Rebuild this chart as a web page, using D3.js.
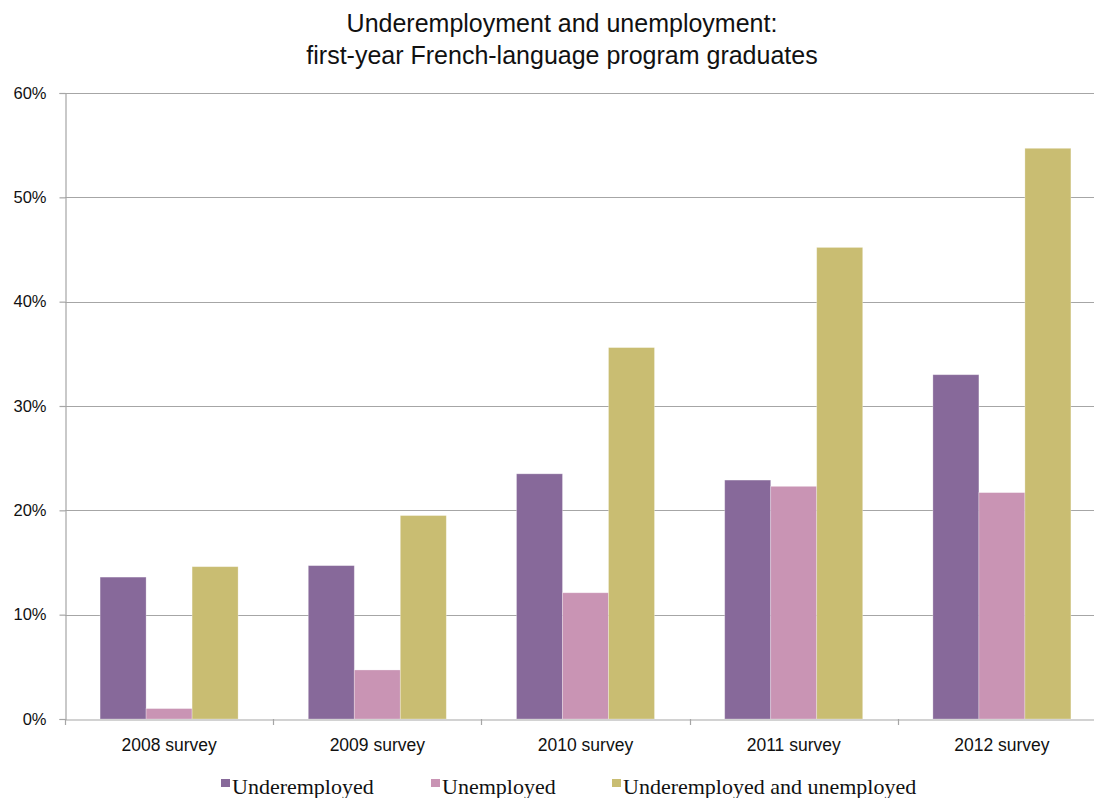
<!DOCTYPE html>
<html>
<head>
<meta charset="utf-8">
<script src="https://cdn.jsdelivr.net/npm/d3@7"></script>
<style>
  html, body { margin: 0; padding: 0; background: #fff; }
  svg { display: block; }
</style>
</head>
<body>
<svg id="chart" width="1094" height="798"></svg>
<script>
// Survey years and the three rates (percent)
const categories = ["2008 survey", "2009 survey", "2010 survey", "2011 survey", "2012 survey"];
const seriesNames = ["Underemployed", "Unemployed", "Underemployed and unemployed"];
const underemployed = [13.6, 14.7, 23.5, 22.9, 33.0];
const unemployed = [1.0, 4.7, 12.1, 22.3, 21.7];
const combined = [14.6, 19.5, 35.6, 45.2, 54.7];
const yTicks = [0, 10, 20, 30, 40, 50, 60];
const colors = ["#87699a", "#c994b4", "#c9bd72"];

const seriesValues = [underemployed, unemployed, combined];
const rows = categories.map((c, i) => ({
  category: c,
  values: seriesNames.map((s, k) => ({ key: s, k, value: seriesValues[k][i] }))
}));

const svg = d3.select("#chart");
const plotLeft = 65, plotRight = 1106, plotTop = 93, plotBottom = 719;
const sans = "'Liberation Sans', Arial, Helvetica, sans-serif";
const serif = "'Liberation Serif', 'Times New Roman', serif";

const x0 = d3.scaleBand().domain(categories).range([plotLeft, plotRight]).paddingInner(0).paddingOuter(0);
const x1 = d3.scaleBand().domain(seriesNames).range([0, x0.bandwidth()]).paddingInner(0).paddingOuter(0.763);
const y = d3.scaleLinear().domain([0, 60]).range([plotBottom, plotTop]);

// Title
const title = svg.append("text")
  .attr("text-anchor", "middle")
  .style("font-family", sans)
  .style("font-size", "25px").attr("fill", "#111");
title.append("tspan").attr("x", 562).attr("y", 32).text("Underemployment and unemployment:");
title.append("tspan").attr("x", 562).attr("y", 64).text("first-year French-language program graduates");

// Horizontal gridlines
svg.append("g").selectAll("line").data(yTicks.filter(t => t > 0)).join("line")
  .attr("x1", plotLeft).attr("x2", plotRight)
  .attr("y1", d => Math.round(y(d)) + 0.5).attr("y2", d => Math.round(y(d)) + 0.5)
  .attr("stroke", "#a6a6a6").attr("stroke-width", 1.2);

// Y axis
const yAxis = svg.append("g").attr("transform", `translate(${plotLeft + 0.5},0)`)
  .call(d3.axisLeft(y).tickValues(yTicks).tickFormat(d => d + "%").tickSize(6).tickPadding(13));
yAxis.select(".domain").attr("stroke", "#a6a6a6").attr("stroke-width", 1.2);
yAxis.selectAll(".tick line").attr("stroke", "#a6a6a6").attr("stroke-width", 1.2);
yAxis.selectAll(".tick text")
  .style("font-family", sans)
  .style("font-size", "16.5px").attr("fill", "#111");

// Bars
const groups = svg.append("g").selectAll("g").data(rows).join("g")
  .attr("transform", d => `translate(${x0(d.category)},0)`);
groups.selectAll("rect").data(d => d.values).join("rect")
  .attr("x", d => x1(d.key))
  .attr("width", x1.bandwidth())
  .attr("y", d => y(d.value))
  .attr("height", d => y(0) - y(d.value))
  .attr("fill", d => colors[d.k])
  .attr("stroke", "rgba(255,255,255,0.35)").attr("stroke-width", 0.8);

// X axis
const xAxis = svg.append("g").attr("transform", `translate(0,${plotBottom + 0.5})`)
  .call(d3.axisBottom(x0).tickSize(0).tickPadding(19));
xAxis.select(".domain").attr("stroke", "#a6a6a6").attr("stroke-width", 1.2);
xAxis.selectAll(".tick text")
  .style("font-family", sans)
  .style("font-size", "17.5px").attr("fill", "#111");
// Category boundary ticks
svg.append("g").selectAll("line").data(d3.range(categories.length + 1)).join("line")
  .attr("x1", i => Math.round(plotLeft + i * x0.bandwidth()) + 0.5)
  .attr("x2", i => Math.round(plotLeft + i * x0.bandwidth()) + 0.5)
  .attr("y1", plotBottom).attr("y2", plotBottom + 6)
  .attr("stroke", "#a6a6a6").attr("stroke-width", 1.2);

// Legend
const legendX = [221, 431, 612];
const legend = svg.append("g").selectAll("g").data(seriesNames).join("g")
  .attr("transform", (d, i) => `translate(${legendX[i]},0)`);
legend.append("rect").attr("x", 0).attr("y", 779).attr("width", 9).attr("height", 8)
  .attr("fill", (d, i) => colors[i]);
legend.append("text").attr("x", 11).attr("y", 794)
  .style("font-family", serif)
  .style("font-size", "22px").attr("fill", "#111")
  .text(d => d);
</script>
</body>
</html>
